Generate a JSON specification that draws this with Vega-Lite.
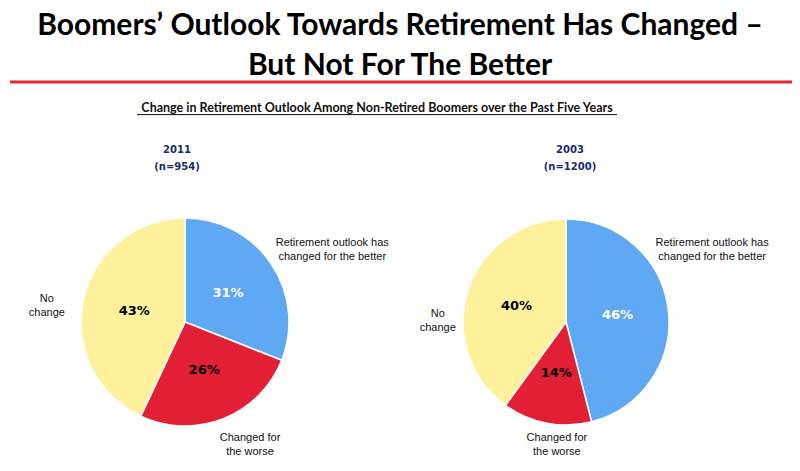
{
  "$schema": "https://vega.github.io/schema/vega-lite/v6.json",
  "background": "white",
  "padding": {"left": 5, "right": 5, "top": 10, "bottom": 0},
  "title": {
    "text": ["Boomers’ Outlook Towards Retirement Has Changed –", "But Not For The Better"],
    "font": "Lato",
    "fontSize": 30,
    "fontWeight": "bold",
    "color": "#000000",
    "lineHeight": 40,
    "anchor": "middle",
    "offset": 0
  },
  "datasets": {
    "pies": [
      {"year": "2011", "cat": "better", "label": ["Retirement outlook has", "changed for the better"], "pct": 0.31, "rank": 1},
      {"year": "2011", "cat": "worse", "label": ["Changed for", "the worse"], "pct": 0.26, "rank": 2},
      {"year": "2011", "cat": "none", "label": ["No", "change"], "pct": 0.43, "rank": 3},
      {"year": "2003", "cat": "better", "label": ["Retirement outlook has", "changed for the better"], "pct": 0.46, "rank": 1},
      {"year": "2003", "cat": "worse", "label": ["Changed for", "the worse"], "pct": 0.14, "rank": 2},
      {"year": "2003", "cat": "none", "label": ["No", "change"], "pct": 0.40, "rank": 3}
    ],
    "header": [{"text": "Change in Retirement Outlook Among Non-Retired Boomers over the Past Five Years"}]
  },
  "vconcat": [
    {
      "width": 790,
      "height": 40,
      "data": {"name": "header"},
      "layer": [
        {
          "mark": {"type": "rule", "color": "#e8262b", "strokeWidth": 3},
          "encoding": {
            "x": {"datum": 0.0063, "type": "quantitative", "scale": {"domain": [0, 1]}, "axis": null},
            "x2": {"datum": 0.9962},
            "y": {"datum": 0.025, "type": "quantitative", "scale": {"domain": [0, 1], "reverse": true}, "axis": null}
          }
        },
        {
          "mark": {"type": "text", "font": "Lato", "fontSize": 12.5, "fontWeight": "bold", "color": "#111111", "baseline": "alphabetic", "align": "center"},
          "encoding": {
            "x": {"datum": 0.4709, "type": "quantitative", "scale": {"domain": [0, 1]}, "axis": null},
            "y": {"datum": 0.775, "type": "quantitative", "scale": {"domain": [0, 1], "reverse": true}, "axis": null},
            "text": {"field": "text"}
          }
        },
        {
          "mark": {"type": "rule", "color": "#111111", "strokeWidth": 1},
          "encoding": {
            "x": {"datum": 0.1671, "type": "quantitative", "scale": {"domain": [0, 1]}, "axis": null},
            "x2": {"datum": 0.7747},
            "y": {"datum": 0.84, "type": "quantitative", "scale": {"domain": [0, 1], "reverse": true}, "axis": null}
          }
        }
      ]
    },
    {
      "bounds": "flush",
      "spacing": 21,
      "hconcat": [
        {
          "width": 360,
          "height": 280,
          "title": {"text": ["2011", "(n=954)"], "font": "DejaVu Sans", "fontSize": 10, "fontWeight": "bold", "color": "#1b2a6b", "lineHeight": 17, "offset": 10, "anchor": "middle", "dx": -8},
          "data": {"name": "pies"},
          "transform": [{"filter": "datum.year === '2011'"}],
          "encoding": {
            "theta": {"field": "pct", "type": "quantitative", "stack": true},
            "order": {"field": "rank", "type": "ordinal"},
            "detail": {"field": "cat", "type": "nominal"}
          },
          "layer": [
            {
              "mark": {"type": "arc", "outerRadius": 104, "stroke": "white", "strokeWidth": 1.5},
              "encoding": {
                "color": {"field": "cat", "type": "nominal", "scale": {"domain": ["better", "worse", "none"], "range": ["#5ea8f4", "#e21f35", "#fdf29b"]}, "legend": null}
              }
            },
            {
              "mark": {"type": "text", "radius": 52, "font": "DejaVu Sans", "fontSize": 13, "fontWeight": "bold"},
              "encoding": {
                "text": {"field": "pct", "type": "quantitative", "format": ".0%"},
                "color": {"condition": {"test": "datum.cat === 'better'", "value": "#ffffff"}, "value": "#000000"}
              }
            },
            {
              "mark": {"type": "text", "radius": 114, "dx": 53, "dy": -15, "align": "center", "baseline": "middle", "font": "Liberation Sans", "fontSize": 11, "lineHeight": 14, "color": "#111111"},
              "encoding": {"text": {"condition": {"test": "datum.cat === 'better'", "field": "label"}, "value": ""}}
            },
            {
              "mark": {"type": "text", "radius": 125, "dx": 19, "dy": 0, "align": "center", "baseline": "middle", "font": "Liberation Sans", "fontSize": 11, "lineHeight": 14, "color": "#111111"},
              "encoding": {"text": {"condition": {"test": "datum.cat === 'worse'", "field": "label"}, "value": ""}}
            },
            {
              "mark": {"type": "text", "radius": 118, "dx": -23, "dy": 3, "align": "center", "baseline": "middle", "font": "Liberation Sans", "fontSize": 11, "lineHeight": 14, "color": "#111111"},
              "encoding": {"text": {"condition": {"test": "datum.cat === 'none'", "field": "label"}, "value": ""}}
            }
          ]
        },
        {
          "width": 360,
          "height": 280,
          "title": {"text": ["2003", "(n=1200)"], "font": "DejaVu Sans", "fontSize": 10, "fontWeight": "bold", "color": "#1b2a6b", "lineHeight": 17, "offset": 10, "anchor": "middle", "dx": 4},
          "data": {"name": "pies"},
          "transform": [{"filter": "datum.year === '2003'"}],
          "encoding": {
            "theta": {"field": "pct", "type": "quantitative", "stack": true},
            "order": {"field": "rank", "type": "ordinal"},
            "detail": {"field": "cat", "type": "nominal"}
          },
          "layer": [
            {
              "mark": {"type": "arc", "outerRadius": 103, "stroke": "white", "strokeWidth": 1.5},
              "encoding": {
                "color": {"field": "cat", "type": "nominal", "scale": {"domain": ["better", "worse", "none"], "range": ["#5ea8f4", "#e21f35", "#fdf29b"]}, "legend": null}
              }
            },
            {
              "mark": {"type": "text", "radius": 52, "font": "DejaVu Sans", "fontSize": 13, "fontWeight": "bold"},
              "encoding": {
                "text": {"field": "pct", "type": "quantitative", "format": ".0%"},
                "color": {"condition": {"test": "datum.cat === 'better'", "value": "#ffffff"}, "value": "#000000"}
              }
            },
            {
              "mark": {"type": "text", "radius": 112, "dx": 35, "dy": -65, "align": "center", "baseline": "middle", "font": "Liberation Sans", "fontSize": 11, "lineHeight": 14, "color": "#111111"},
              "encoding": {"text": {"condition": {"test": "datum.cat === 'better'", "field": "label"}, "value": ""}}
            },
            {
              "mark": {"type": "text", "radius": 118, "dx": 13, "dy": 0, "align": "center", "baseline": "middle", "font": "Liberation Sans", "fontSize": 11, "lineHeight": 14, "color": "#111111"},
              "encoding": {"text": {"condition": {"test": "datum.cat === 'worse'", "field": "label"}, "value": ""}}
            },
            {
              "mark": {"type": "text", "radius": 118, "dx": -16, "dy": 28, "align": "center", "baseline": "middle", "font": "Liberation Sans", "fontSize": 11, "lineHeight": 14, "color": "#111111"},
              "encoding": {"text": {"condition": {"test": "datum.cat === 'none'", "field": "label"}, "value": ""}}
            }
          ]
        }
      ]
    }
  ],
  "spacing": 24,
  "config": {"view": {"stroke": null}}
}
